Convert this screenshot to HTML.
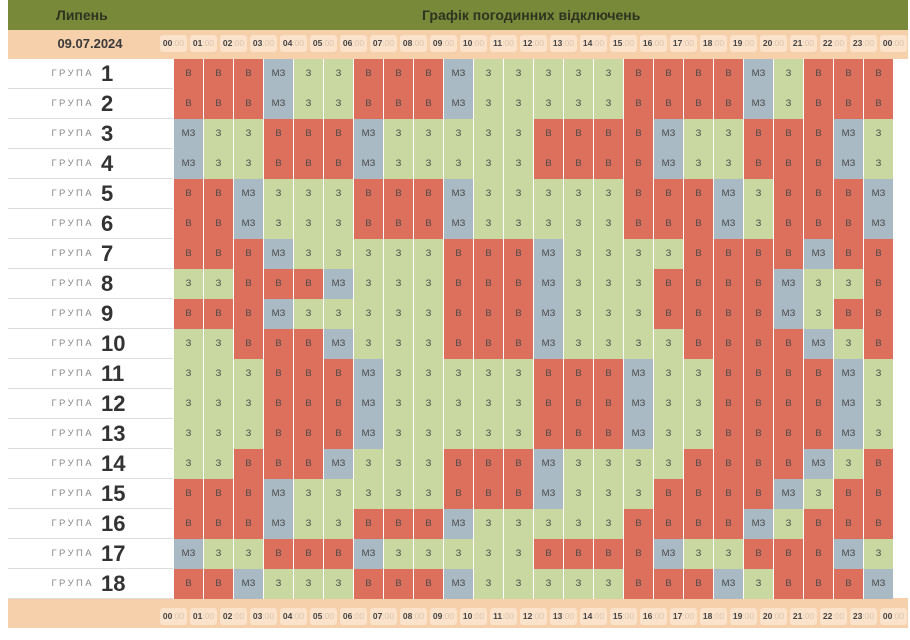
<!DOCTYPE html>
<html><head><meta charset="utf-8"><style>
*{margin:0;padding:0;box-sizing:border-box}
body{width:910px;height:640px;background:#fff;font-family:"Liberation Sans",sans-serif;position:relative;overflow:hidden}
.hdr{position:absolute;left:8px;top:0;width:900px;height:30px;background:#78893a;color:#2f3320;font-weight:bold;font-size:14px}
.hdr span{position:absolute;top:7px}
.pe{position:absolute;left:8px;width:900px;height:29px;background:#f6cfab}
.date{position:absolute;left:8px;top:30px;width:164px;height:28px;text-align:center;line-height:28px;font-weight:bold;font-size:13px;color:#3a3a3a}
.tl{position:absolute;width:27px;height:17px;background:#fbe2cb;border-radius:3px;font-size:8.5px;line-height:17px;text-align:center;color:#444;font-weight:bold}
.tl b{color:#d8c4b0;font-weight:normal}
.rows{position:absolute;left:8px;top:59px;width:900px}
.row{height:30px;display:flex}
.lab{width:165px;border-bottom:1px solid #ddd;color:#333;height:30px;position:relative}
.lab s{position:absolute;right:79px;top:10px;text-decoration:none;font-size:9.5px;letter-spacing:2.4px;color:#888;line-height:10px}
.lab u{position:absolute;left:93px;top:3px;text-decoration:none;font-size:22px;font-weight:bold;color:#333;line-height:24px}
.row i{font-style:normal;width:30px;height:30px;border-left:1px solid #fff;text-align:center;line-height:30px;font-size:9.5px;color:#4a4a4a}
.v{background:#dd6f5d}.z{background:#c9d8a1}.m{background:#a9bac4}
</style></head><body>
<div class="hdr"><span style="left:48px">Липень</span><span style="left:414px">Графік погодинних відключень</span></div>
<div class="pe" style="top:30px"></div>
<div class="date">09.07.2024</div>
<div class="pe" style="top:598px;height:30px"></div>

<div class="tl" style="left:160px;top:35px">00<b>:00</b></div><div class="tl" style="left:190px;top:35px">01<b>:00</b></div><div class="tl" style="left:220px;top:35px">02<b>:00</b></div><div class="tl" style="left:250px;top:35px">03<b>:00</b></div><div class="tl" style="left:280px;top:35px">04<b>:00</b></div><div class="tl" style="left:310px;top:35px">05<b>:00</b></div><div class="tl" style="left:340px;top:35px">06<b>:00</b></div><div class="tl" style="left:370px;top:35px">07<b>:00</b></div><div class="tl" style="left:400px;top:35px">08<b>:00</b></div><div class="tl" style="left:430px;top:35px">09<b>:00</b></div><div class="tl" style="left:460px;top:35px">10<b>:00</b></div><div class="tl" style="left:490px;top:35px">11<b>:00</b></div><div class="tl" style="left:520px;top:35px">12<b>:00</b></div><div class="tl" style="left:550px;top:35px">13<b>:00</b></div><div class="tl" style="left:580px;top:35px">14<b>:00</b></div><div class="tl" style="left:610px;top:35px">15<b>:00</b></div><div class="tl" style="left:640px;top:35px">16<b>:00</b></div><div class="tl" style="left:670px;top:35px">17<b>:00</b></div><div class="tl" style="left:700px;top:35px">18<b>:00</b></div><div class="tl" style="left:730px;top:35px">19<b>:00</b></div><div class="tl" style="left:760px;top:35px">20<b>:00</b></div><div class="tl" style="left:790px;top:35px">21<b>:00</b></div><div class="tl" style="left:820px;top:35px">22<b>:00</b></div><div class="tl" style="left:850px;top:35px">23<b>:00</b></div><div class="tl" style="left:880px;top:35px">00<b>:00</b></div>

<div class="tl" style="left:160px;top:608px">00<b>:00</b></div><div class="tl" style="left:190px;top:608px">01<b>:00</b></div><div class="tl" style="left:220px;top:608px">02<b>:00</b></div><div class="tl" style="left:250px;top:608px">03<b>:00</b></div><div class="tl" style="left:280px;top:608px">04<b>:00</b></div><div class="tl" style="left:310px;top:608px">05<b>:00</b></div><div class="tl" style="left:340px;top:608px">06<b>:00</b></div><div class="tl" style="left:370px;top:608px">07<b>:00</b></div><div class="tl" style="left:400px;top:608px">08<b>:00</b></div><div class="tl" style="left:430px;top:608px">09<b>:00</b></div><div class="tl" style="left:460px;top:608px">10<b>:00</b></div><div class="tl" style="left:490px;top:608px">11<b>:00</b></div><div class="tl" style="left:520px;top:608px">12<b>:00</b></div><div class="tl" style="left:550px;top:608px">13<b>:00</b></div><div class="tl" style="left:580px;top:608px">14<b>:00</b></div><div class="tl" style="left:610px;top:608px">15<b>:00</b></div><div class="tl" style="left:640px;top:608px">16<b>:00</b></div><div class="tl" style="left:670px;top:608px">17<b>:00</b></div><div class="tl" style="left:700px;top:608px">18<b>:00</b></div><div class="tl" style="left:730px;top:608px">19<b>:00</b></div><div class="tl" style="left:760px;top:608px">20<b>:00</b></div><div class="tl" style="left:790px;top:608px">21<b>:00</b></div><div class="tl" style="left:820px;top:608px">22<b>:00</b></div><div class="tl" style="left:850px;top:608px">23<b>:00</b></div><div class="tl" style="left:880px;top:608px">00<b>:00</b></div>

<div class="rows">
<div class="row"><div class="lab"><s>ГРУПА</s><u>1</u></div><i class=v>В</i><i class=v>В</i><i class=v>В</i><i class=m>МЗ</i><i class=z>З</i><i class=z>З</i><i class=v>В</i><i class=v>В</i><i class=v>В</i><i class=m>МЗ</i><i class=z>З</i><i class=z>З</i><i class=z>З</i><i class=z>З</i><i class=z>З</i><i class=v>В</i><i class=v>В</i><i class=v>В</i><i class=v>В</i><i class=m>МЗ</i><i class=z>З</i><i class=v>В</i><i class=v>В</i><i class=v>В</i></div>
<div class="row"><div class="lab"><s>ГРУПА</s><u>2</u></div><i class=v>В</i><i class=v>В</i><i class=v>В</i><i class=m>МЗ</i><i class=z>З</i><i class=z>З</i><i class=v>В</i><i class=v>В</i><i class=v>В</i><i class=m>МЗ</i><i class=z>З</i><i class=z>З</i><i class=z>З</i><i class=z>З</i><i class=z>З</i><i class=v>В</i><i class=v>В</i><i class=v>В</i><i class=v>В</i><i class=m>МЗ</i><i class=z>З</i><i class=v>В</i><i class=v>В</i><i class=v>В</i></div>
<div class="row"><div class="lab"><s>ГРУПА</s><u>3</u></div><i class=m>МЗ</i><i class=z>З</i><i class=z>З</i><i class=v>В</i><i class=v>В</i><i class=v>В</i><i class=m>МЗ</i><i class=z>З</i><i class=z>З</i><i class=z>З</i><i class=z>З</i><i class=z>З</i><i class=v>В</i><i class=v>В</i><i class=v>В</i><i class=v>В</i><i class=m>МЗ</i><i class=z>З</i><i class=z>З</i><i class=v>В</i><i class=v>В</i><i class=v>В</i><i class=m>МЗ</i><i class=z>З</i></div>
<div class="row"><div class="lab"><s>ГРУПА</s><u>4</u></div><i class=m>МЗ</i><i class=z>З</i><i class=z>З</i><i class=v>В</i><i class=v>В</i><i class=v>В</i><i class=m>МЗ</i><i class=z>З</i><i class=z>З</i><i class=z>З</i><i class=z>З</i><i class=z>З</i><i class=v>В</i><i class=v>В</i><i class=v>В</i><i class=v>В</i><i class=m>МЗ</i><i class=z>З</i><i class=z>З</i><i class=v>В</i><i class=v>В</i><i class=v>В</i><i class=m>МЗ</i><i class=z>З</i></div>
<div class="row"><div class="lab"><s>ГРУПА</s><u>5</u></div><i class=v>В</i><i class=v>В</i><i class=m>МЗ</i><i class=z>З</i><i class=z>З</i><i class=z>З</i><i class=v>В</i><i class=v>В</i><i class=v>В</i><i class=m>МЗ</i><i class=z>З</i><i class=z>З</i><i class=z>З</i><i class=z>З</i><i class=z>З</i><i class=v>В</i><i class=v>В</i><i class=v>В</i><i class=m>МЗ</i><i class=z>З</i><i class=v>В</i><i class=v>В</i><i class=v>В</i><i class=m>МЗ</i></div>
<div class="row"><div class="lab"><s>ГРУПА</s><u>6</u></div><i class=v>В</i><i class=v>В</i><i class=m>МЗ</i><i class=z>З</i><i class=z>З</i><i class=z>З</i><i class=v>В</i><i class=v>В</i><i class=v>В</i><i class=m>МЗ</i><i class=z>З</i><i class=z>З</i><i class=z>З</i><i class=z>З</i><i class=z>З</i><i class=v>В</i><i class=v>В</i><i class=v>В</i><i class=m>МЗ</i><i class=z>З</i><i class=v>В</i><i class=v>В</i><i class=v>В</i><i class=m>МЗ</i></div>
<div class="row"><div class="lab"><s>ГРУПА</s><u>7</u></div><i class=v>В</i><i class=v>В</i><i class=v>В</i><i class=m>МЗ</i><i class=z>З</i><i class=z>З</i><i class=z>З</i><i class=z>З</i><i class=z>З</i><i class=v>В</i><i class=v>В</i><i class=v>В</i><i class=m>МЗ</i><i class=z>З</i><i class=z>З</i><i class=z>З</i><i class=z>З</i><i class=v>В</i><i class=v>В</i><i class=v>В</i><i class=v>В</i><i class=m>МЗ</i><i class=v>В</i><i class=v>В</i></div>
<div class="row"><div class="lab"><s>ГРУПА</s><u>8</u></div><i class=z>З</i><i class=z>З</i><i class=v>В</i><i class=v>В</i><i class=v>В</i><i class=m>МЗ</i><i class=z>З</i><i class=z>З</i><i class=z>З</i><i class=v>В</i><i class=v>В</i><i class=v>В</i><i class=m>МЗ</i><i class=z>З</i><i class=z>З</i><i class=z>З</i><i class=v>В</i><i class=v>В</i><i class=v>В</i><i class=v>В</i><i class=m>МЗ</i><i class=z>З</i><i class=z>З</i><i class=v>В</i></div>
<div class="row"><div class="lab"><s>ГРУПА</s><u>9</u></div><i class=v>В</i><i class=v>В</i><i class=v>В</i><i class=m>МЗ</i><i class=z>З</i><i class=z>З</i><i class=z>З</i><i class=z>З</i><i class=z>З</i><i class=v>В</i><i class=v>В</i><i class=v>В</i><i class=m>МЗ</i><i class=z>З</i><i class=z>З</i><i class=z>З</i><i class=v>В</i><i class=v>В</i><i class=v>В</i><i class=v>В</i><i class=m>МЗ</i><i class=z>З</i><i class=v>В</i><i class=v>В</i></div>
<div class="row"><div class="lab"><s>ГРУПА</s><u>10</u></div><i class=z>З</i><i class=z>З</i><i class=v>В</i><i class=v>В</i><i class=v>В</i><i class=m>МЗ</i><i class=z>З</i><i class=z>З</i><i class=z>З</i><i class=v>В</i><i class=v>В</i><i class=v>В</i><i class=m>МЗ</i><i class=z>З</i><i class=z>З</i><i class=z>З</i><i class=z>З</i><i class=v>В</i><i class=v>В</i><i class=v>В</i><i class=v>В</i><i class=m>МЗ</i><i class=z>З</i><i class=v>В</i></div>
<div class="row"><div class="lab"><s>ГРУПА</s><u>11</u></div><i class=z>З</i><i class=z>З</i><i class=z>З</i><i class=v>В</i><i class=v>В</i><i class=v>В</i><i class=m>МЗ</i><i class=z>З</i><i class=z>З</i><i class=z>З</i><i class=z>З</i><i class=z>З</i><i class=v>В</i><i class=v>В</i><i class=v>В</i><i class=m>МЗ</i><i class=z>З</i><i class=z>З</i><i class=v>В</i><i class=v>В</i><i class=v>В</i><i class=v>В</i><i class=m>МЗ</i><i class=z>З</i></div>
<div class="row"><div class="lab"><s>ГРУПА</s><u>12</u></div><i class=z>З</i><i class=z>З</i><i class=z>З</i><i class=v>В</i><i class=v>В</i><i class=v>В</i><i class=m>МЗ</i><i class=z>З</i><i class=z>З</i><i class=z>З</i><i class=z>З</i><i class=z>З</i><i class=v>В</i><i class=v>В</i><i class=v>В</i><i class=m>МЗ</i><i class=z>З</i><i class=z>З</i><i class=v>В</i><i class=v>В</i><i class=v>В</i><i class=v>В</i><i class=m>МЗ</i><i class=z>З</i></div>
<div class="row"><div class="lab"><s>ГРУПА</s><u>13</u></div><i class=z>З</i><i class=z>З</i><i class=z>З</i><i class=v>В</i><i class=v>В</i><i class=v>В</i><i class=m>МЗ</i><i class=z>З</i><i class=z>З</i><i class=z>З</i><i class=z>З</i><i class=z>З</i><i class=v>В</i><i class=v>В</i><i class=v>В</i><i class=m>МЗ</i><i class=z>З</i><i class=z>З</i><i class=v>В</i><i class=v>В</i><i class=v>В</i><i class=v>В</i><i class=m>МЗ</i><i class=z>З</i></div>
<div class="row"><div class="lab"><s>ГРУПА</s><u>14</u></div><i class=z>З</i><i class=z>З</i><i class=v>В</i><i class=v>В</i><i class=v>В</i><i class=m>МЗ</i><i class=z>З</i><i class=z>З</i><i class=z>З</i><i class=v>В</i><i class=v>В</i><i class=v>В</i><i class=m>МЗ</i><i class=z>З</i><i class=z>З</i><i class=z>З</i><i class=z>З</i><i class=v>В</i><i class=v>В</i><i class=v>В</i><i class=v>В</i><i class=m>МЗ</i><i class=z>З</i><i class=v>В</i></div>
<div class="row"><div class="lab"><s>ГРУПА</s><u>15</u></div><i class=v>В</i><i class=v>В</i><i class=v>В</i><i class=m>МЗ</i><i class=z>З</i><i class=z>З</i><i class=z>З</i><i class=z>З</i><i class=z>З</i><i class=v>В</i><i class=v>В</i><i class=v>В</i><i class=m>МЗ</i><i class=z>З</i><i class=z>З</i><i class=z>З</i><i class=v>В</i><i class=v>В</i><i class=v>В</i><i class=v>В</i><i class=m>МЗ</i><i class=z>З</i><i class=v>В</i><i class=v>В</i></div>
<div class="row"><div class="lab"><s>ГРУПА</s><u>16</u></div><i class=v>В</i><i class=v>В</i><i class=v>В</i><i class=m>МЗ</i><i class=z>З</i><i class=z>З</i><i class=v>В</i><i class=v>В</i><i class=v>В</i><i class=m>МЗ</i><i class=z>З</i><i class=z>З</i><i class=z>З</i><i class=z>З</i><i class=z>З</i><i class=v>В</i><i class=v>В</i><i class=v>В</i><i class=v>В</i><i class=m>МЗ</i><i class=z>З</i><i class=v>В</i><i class=v>В</i><i class=v>В</i></div>
<div class="row"><div class="lab"><s>ГРУПА</s><u>17</u></div><i class=m>МЗ</i><i class=z>З</i><i class=z>З</i><i class=v>В</i><i class=v>В</i><i class=v>В</i><i class=m>МЗ</i><i class=z>З</i><i class=z>З</i><i class=z>З</i><i class=z>З</i><i class=z>З</i><i class=v>В</i><i class=v>В</i><i class=v>В</i><i class=v>В</i><i class=m>МЗ</i><i class=z>З</i><i class=z>З</i><i class=v>В</i><i class=v>В</i><i class=v>В</i><i class=m>МЗ</i><i class=z>З</i></div>
<div class="row"><div class="lab"><s>ГРУПА</s><u>18</u></div><i class=v>В</i><i class=v>В</i><i class=m>МЗ</i><i class=z>З</i><i class=z>З</i><i class=z>З</i><i class=v>В</i><i class=v>В</i><i class=v>В</i><i class=m>МЗ</i><i class=z>З</i><i class=z>З</i><i class=z>З</i><i class=z>З</i><i class=z>З</i><i class=v>В</i><i class=v>В</i><i class=v>В</i><i class=m>МЗ</i><i class=z>З</i><i class=v>В</i><i class=v>В</i><i class=v>В</i><i class=m>МЗ</i></div>
</div>
</body></html>
